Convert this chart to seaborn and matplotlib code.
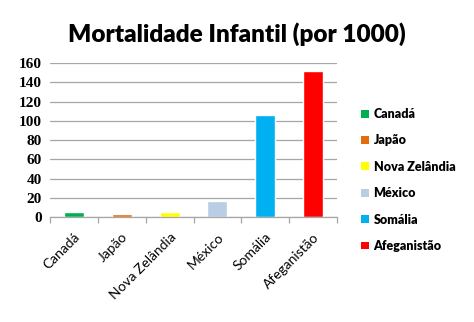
import matplotlib
matplotlib.use("Agg")
import matplotlib.pyplot as plt
import seaborn as sns
import pandas as pd
from matplotlib.patches import Patch

countries = ["Canadá", "Japão", "Nova Zelândia", "México", "Somália", "Afeganistão"]
mortality = [5, 3, 5, 17, 106, 152]
colors = ["#00B050", "#E46C0A", "#FFFF00", "#B9CDE5", "#00B0F0", "#FF0000"]
yticks = [0, 20, 40, 60, 80, 100, 120, 140, 160]
title = "Mortalidade Infantil (por 1000)"

sns.set_theme(style="white")
plt.rcParams["font.family"] = ["Lato", "DejaVu Sans"]
plt.rcParams["text.color"] = "black"
plt.rcParams["xtick.color"] = "black"
plt.rcParams["ytick.color"] = "black"

df = pd.DataFrame({"country": countries, "value": mortality})

fig = plt.figure(figsize=(4.74, 3.22), dpi=100)
ax = fig.add_axes([0.1055, 0.326, 0.6055, 0.478])

sns.barplot(data=df, x="country", y="value", hue="country", order=countries,
            hue_order=countries, palette=colors, dodge=False, width=0.42,
            legend=False, ax=ax, saturation=1)

ax.set_xlim(-0.5, 5.5)
ax.set_ylim(0, 160)
ax.set_yticks(yticks)
ax.set_yticklabels([str(v) for v in yticks], family="Liberation Serif",
                   fontweight="bold", fontsize=11, color="black")
ax.yaxis.grid(True, color="#A6A6A6", linewidth=0.9)
ax.set_axisbelow(True)
ax.tick_params(axis="y", length=0, pad=6)

ax.set_xticks(range(len(countries)))
ax.set_xticklabels(countries, rotation=45, ha="right", rotation_mode="anchor",
                   fontsize=10, color="black")
ax.tick_params(axis="x", which="major", length=0, pad=10)
ax.set_xticks([i - 0.5 for i in range(len(countries) + 1)], minor=True)
ax.tick_params(axis="x", which="minor", length=4, color="#A6A6A6", width=0.9,
               bottom=True)

for s in ["left", "top", "right"]:
    ax.spines[s].set_visible(False)
ax.spines["bottom"].set_color("#A6A6A6")
ax.spines["bottom"].set_linewidth(0.9)
ax.set_xlabel("")
ax.set_ylabel("")

handles = [Patch(facecolor=c, edgecolor="none") for c in colors]
leg = fig.legend(handles, countries, loc="center left",
                 bbox_to_anchor=(0.738, 0.441), frameon=False,
                 prop={"family": "Lato", "weight": "heavy", "size": 9},
                 handlelength=0.6, handleheight=0.6, handletextpad=0.4,
                 labelspacing=1.15)
for t in leg.get_texts():
    t.set_color("black")

fig.text(0.5, 0.895, title, ha="center", va="center", fontsize=17.5,
         fontweight="heavy", family="Lato", color="black")

fig.savefig("out.png", dpi=100)
